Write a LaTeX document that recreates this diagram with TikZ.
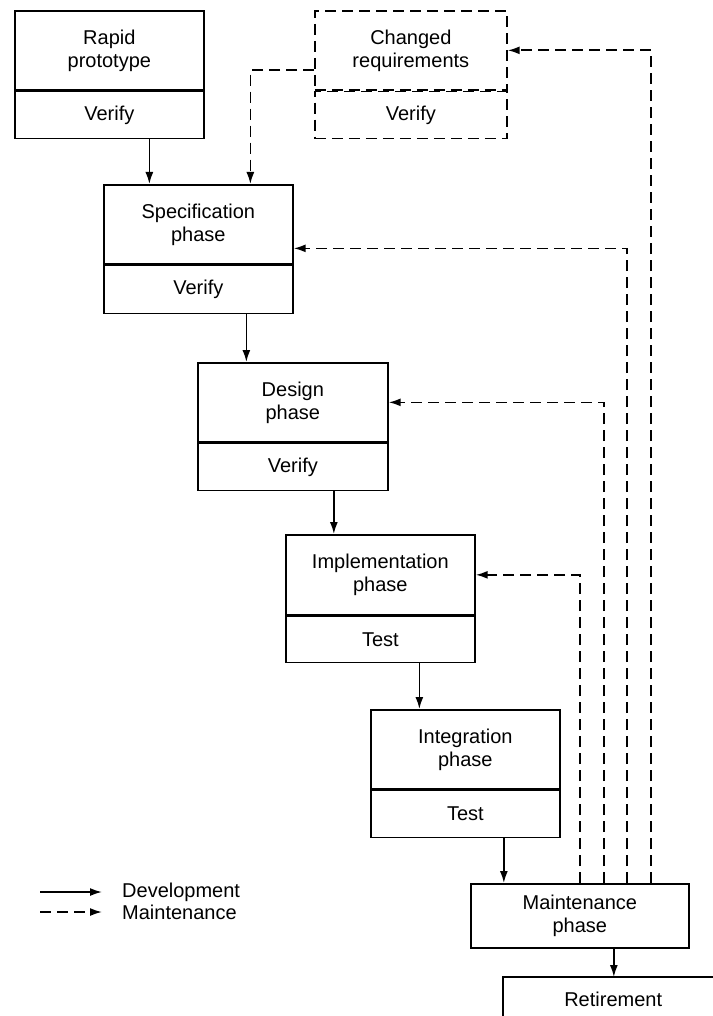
\documentclass[tikz,border=0pt]{standalone}
\usepackage{fontspec}
\setmainfont{Liberation Sans}
\usetikzlibrary{arrows.meta}
\begin{document}
\begin{tikzpicture}[x=1pt,y=1pt,
  every node/.style={font=\fontsize{20}{23}\selectfont},
  top/.style={draw, line width=1.7pt, minimum width=189pt, minimum height=79pt, inner sep=0pt, align=center},
  bot/.style={draw, line width=1.7pt, minimum width=189pt, minimum height=47pt, inner sep=0pt},
  dsh/.style={dash pattern=on 11pt off 6pt},
  dev/.style={line width=1.7pt, -{Latex[length=12pt,width=8pt]}},
  mnt/.style={dev, dsh},
]
\useasboundingbox (0,0) rectangle (712,-1016);
% boxes
\node[top, anchor=north west] (rapid) at (14,-10) {Rapid\\prototype};
\node[bot, anchor=north] (rapidv) at (rapid.south) {Verify};
\node[top, dsh, minimum width=192pt, anchor=north west] (chg) at (314,-10) {Changed\\requirements};
\node[bot, dsh, minimum width=192pt, anchor=north] (chgv) at (chg.south) {Verify};
\node[top, anchor=north west] (spec) at (103,-184) {Specification\\phase};
\node[bot, minimum height=48pt, anchor=north] (specv) at (spec.south) {Verify};
\node[top, minimum width=190pt, anchor=north west] (design) at (197,-362) {Design\\phase};
\node[bot, minimum width=190pt, anchor=north] (designv) at (design.south) {Verify};
\node[top, minimum height=80pt, anchor=north west] (impl) at (285,-534) {Implementation\\phase};
\node[bot, minimum height=46pt, anchor=north] (implv) at (impl.south) {Test};
\node[top, anchor=north west] (integ) at (370,-709) {Integration\\phase};
\node[bot, anchor=north] (integv) at (integ.south) {Test};
\node[top, minimum width=218pt, minimum height=64pt, anchor=north west] (maint) at (470,-883) {Maintenance\\phase};
\node[inner sep=0pt, minimum width=220pt, minimum height=44pt, anchor=north west] (ret) at (503,-977) {Retirement};
\draw[line width=1.7pt] ([yshift=-20pt]ret.south west) -- (ret.north west) -- ([xshift=10pt]ret.north east);
% development arrows
\draw[dev] ([xshift=40pt]rapidv.south) -- ([xshift=40pt]rapidv.south |- spec.north);
\draw[dev] ([xshift=48pt]specv.south) -- ([xshift=48pt]specv.south |- design.north);
\draw[dev] ([xshift=41pt]designv.south) -- ([xshift=41pt]designv.south |- impl.north);
\draw[dev] ([xshift=39pt]implv.south) -- ([xshift=39pt]implv.south |- integ.north);
\draw[dev] ([xshift=38.5pt]integv.south) -- ([xshift=38.5pt]integv.south |- maint.north);
\draw[dev] ([xshift=34pt]maint.south) -- ([xshift=34pt]maint.south |- ret.north);
% maintenance arrows
\draw[mnt] ([yshift=-20pt]chg.west) -| ([xshift=52pt]spec.north);
\draw[mnt] (maint.north) |- (impl.east);
\draw[mnt] ([xshift=24pt]maint.north) |- (design.east);
\draw[mnt] ([xshift=47pt]maint.north) |- ([yshift=-24pt]spec.east);
\draw[mnt] ([xshift=71pt]maint.north) |- (chg.east);
% legend
\node[inner sep=0pt, anchor=west] (ldev) at (122,-892) {Development};
\node[inner sep=0pt, anchor=west] (lmnt) at (122,-912) {Maintenance};
\coordinate (l1) at (40,-892);
\coordinate (l2) at (40,-912);
\draw[dev] (l1) -- ([xshift=-20pt]ldev.west);
\draw[mnt] (l2) -- ([xshift=-20pt]lmnt.west);
\end{tikzpicture}
\end{document}
